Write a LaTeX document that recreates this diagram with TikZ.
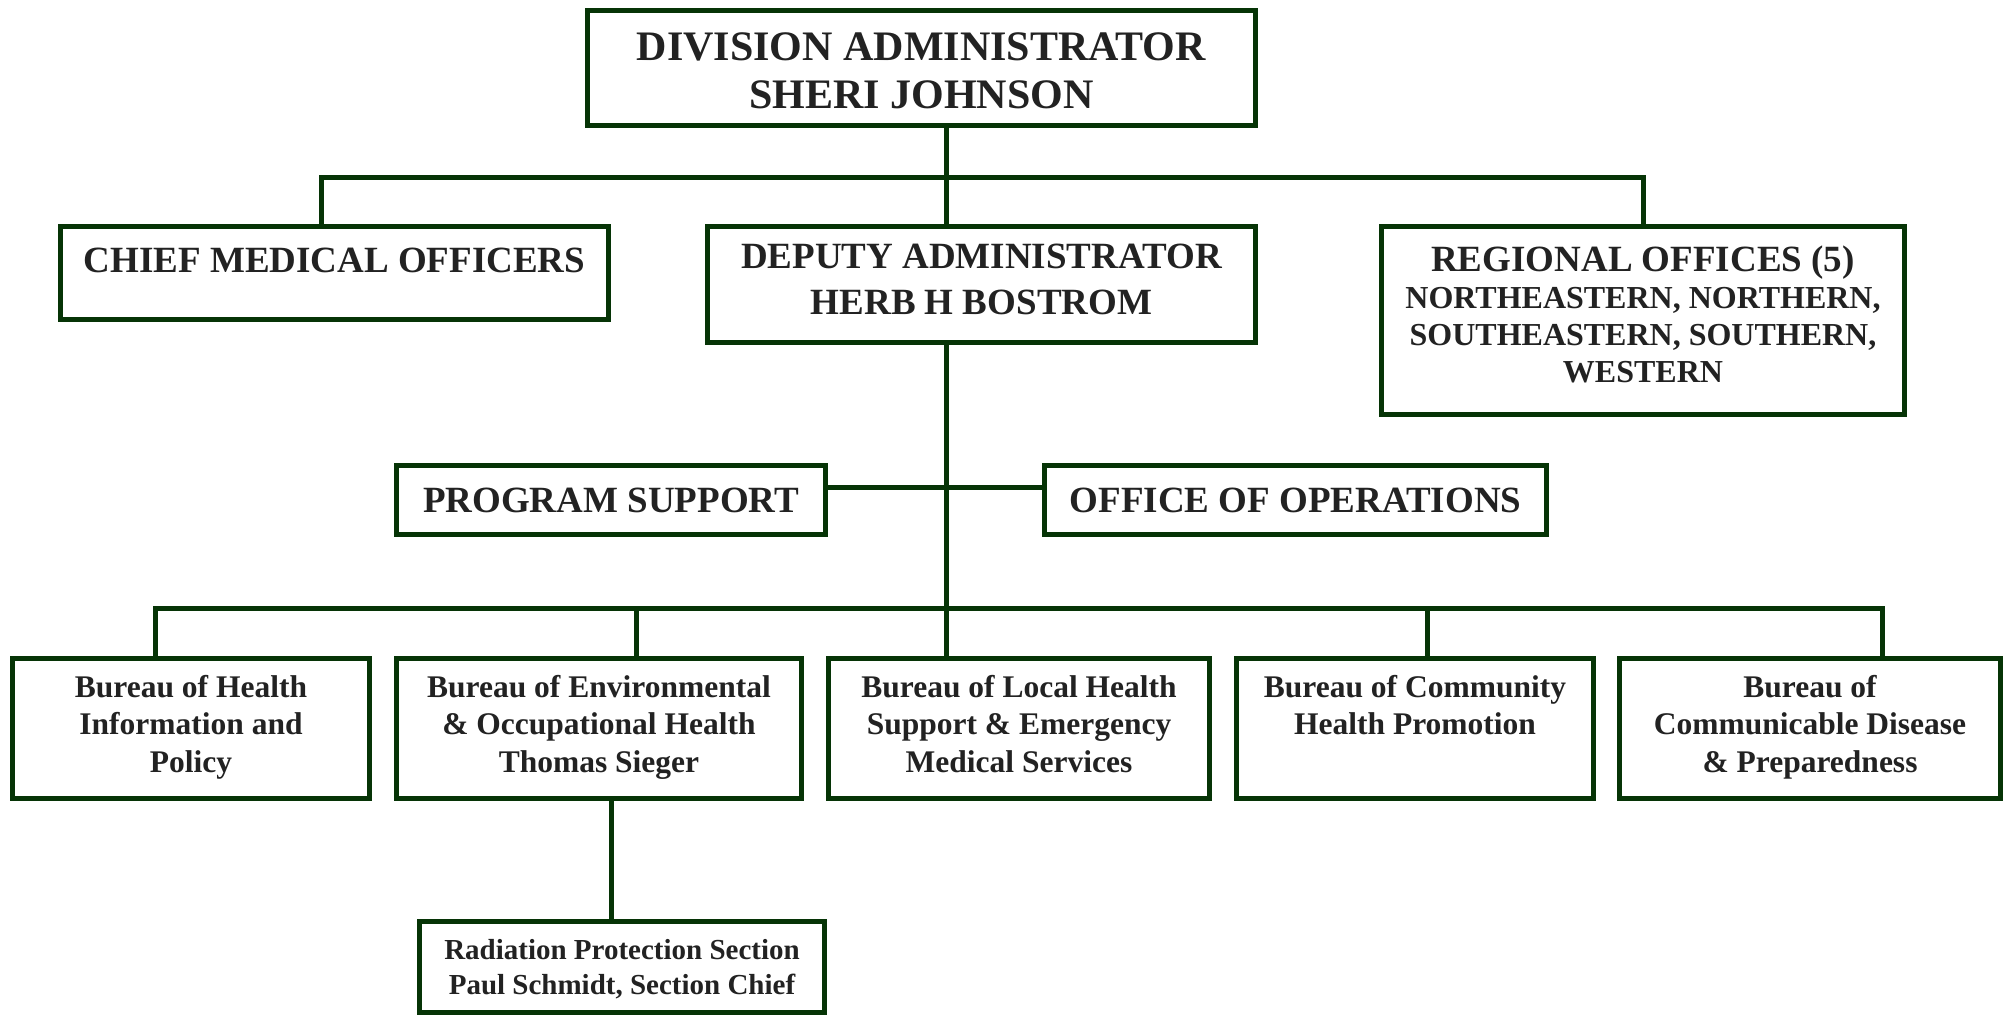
\documentclass[tikz,border=0pt]{standalone}
\usepackage{fontspec}
\setmainfont{Liberation Serif}
\definecolor{dgreen}{RGB}{6,52,6}
\definecolor{txt}{RGB}{34,34,34}
\begin{document}
\begin{tikzpicture}[x=1pt,y=-1pt,
  box/.style={draw=dgreen,line width=5pt,fill=white,inner sep=0pt,rectangle},
  conn/.style={draw=dgreen,line width=5pt},
  lbl/.style={anchor=base,inner sep=0pt,text=txt,font=\bfseries}]
\useasboundingbox[fill=white] (0,0) rectangle (2015,1017);
\setlength{\tabcolsep}{0pt}
% boxes
\node[box,minimum width=668pt,minimum height=115pt] (division) at (921.5,68) {};
\node[box,minimum width=548pt,minimum height=93pt] (chief) at (334.5,273) {};
\node[box,minimum width=548pt,minimum height=116pt] (deputy) at (981.5,284.5) {};
\node[box,minimum width=523pt,minimum height=188pt] (regional) at (1643,320.5) {};
\node[box,minimum width=429pt,minimum height=69pt] (program) at (611,500) {};
\node[box,minimum width=502pt,minimum height=69pt] (office) at (1295.5,500) {};
\node[box,minimum width=357pt,minimum height=140pt] (b1) at (191,728.5) {};
\node[box,minimum width=405pt,minimum height=140pt] (b2) at (599,728.5) {};
\node[box,minimum width=381pt,minimum height=140pt] (b3) at (1019,728.5) {};
\node[box,minimum width=357pt,minimum height=140pt] (b4) at (1415,728.5) {};
\node[box,minimum width=381pt,minimum height=140pt] (b5) at (1810,728.5) {};
\node[box,minimum width=405pt,minimum height=91pt] (radiation) at (622,967) {};
% junction coordinates
\coordinate (spine) at (946,0);
\coordinate (t1L) at (321,177);
\coordinate (t1R) at (1643,177);
\coordinate (mid) at (946,487);
\coordinate (t2L) at (155,608);
\coordinate (t2R) at (1882,608);
\coordinate (t2b) at (636,608);
\coordinate (t2d) at (1427,608);
\coordinate (rad) at (611,0);
% connectors
\draw[conn] (division.south -| spine) -- (deputy.north -| spine);
\draw[conn] (chief.north -| t1L) -- (t1L) -- (t1R) -- (regional.north -| t1R);
\draw[conn] (deputy.south -| spine) -- (b3.north -| spine);
\draw[conn] (program.east |- mid) -- (office.west |- mid);
\draw[conn] (b1.north -| t2L) -- (t2L) -- (t2R) -- (b5.north -| t2R);
\draw[conn] (t2b) -- (b2.north -| t2b);
\draw[conn] (t2d) -- (b4.north -| t2d);
\draw[conn] (b2.south -| rad) -- (radiation.north -| rad);
% texts
\node[lbl] (divisiont) at (921.5,60) {\fontsize{42}{48}\selectfont\begin{tabular}[t]{c}DIVISION ADMINISTRATOR\\SHERI JOHNSON\end{tabular}};
\node[lbl] (chieft) at (334.5,272) {\fontsize{37}{44}\selectfont CHIEF MEDICAL OFFICERS};
\node[lbl] (deputyt) at (981.5,268) {\fontsize{37}{46}\selectfont\begin{tabular}[t]{c}DEPUTY ADMINISTRATOR\\HERB H BOSTROM\end{tabular}};
\node[lbl] (regionalt) at (1643,271) {\fontsize{32}{37}\selectfont\begin{tabular}[t]{c}{\fontsize{37}{37}\selectfont REGIONAL OFFICES (5)}\\NORTHEASTERN, NORTHERN,\\SOUTHEASTERN, SOUTHERN,\\WESTERN\end{tabular}};
\node[lbl] (programt) at (611,512) {\fontsize{37}{44}\selectfont PROGRAM SUPPORT};
\node[lbl] (officet) at (1295.5,512) {\fontsize{37}{44}\selectfont OFFICE OF OPERATIONS};
\node[lbl] (b1t) at (191,697) {\fontsize{31.5}{37.5}\selectfont\begin{tabular}[t]{c}Bureau of Health\\Information and\\Policy\end{tabular}};
\node[lbl] (b2t) at (599,697) {\fontsize{31.5}{37.5}\selectfont\begin{tabular}[t]{c}Bureau of Environmental\\\& Occupational Health\\Thomas Sieger\end{tabular}};
\node[lbl] (b3t) at (1019,697) {\fontsize{31.5}{37.5}\selectfont\begin{tabular}[t]{c}Bureau of Local Health\\Support \& Emergency\\Medical Services\end{tabular}};
\node[lbl] (b4t) at (1415,697) {\fontsize{31.5}{37.5}\selectfont\begin{tabular}[t]{c}Bureau of Community\\Health Promotion\end{tabular}};
\node[lbl] (b5t) at (1810,697) {\fontsize{31.5}{37.5}\selectfont\begin{tabular}[t]{c}Bureau of\\Communicable Disease\\\& Preparedness\end{tabular}};
\node[lbl] (radiationt) at (622,959) {\fontsize{29}{35}\selectfont\begin{tabular}[t]{c}Radiation Protection Section\\Paul Schmidt, Section Chief\end{tabular}};
\end{tikzpicture}
\end{document}
